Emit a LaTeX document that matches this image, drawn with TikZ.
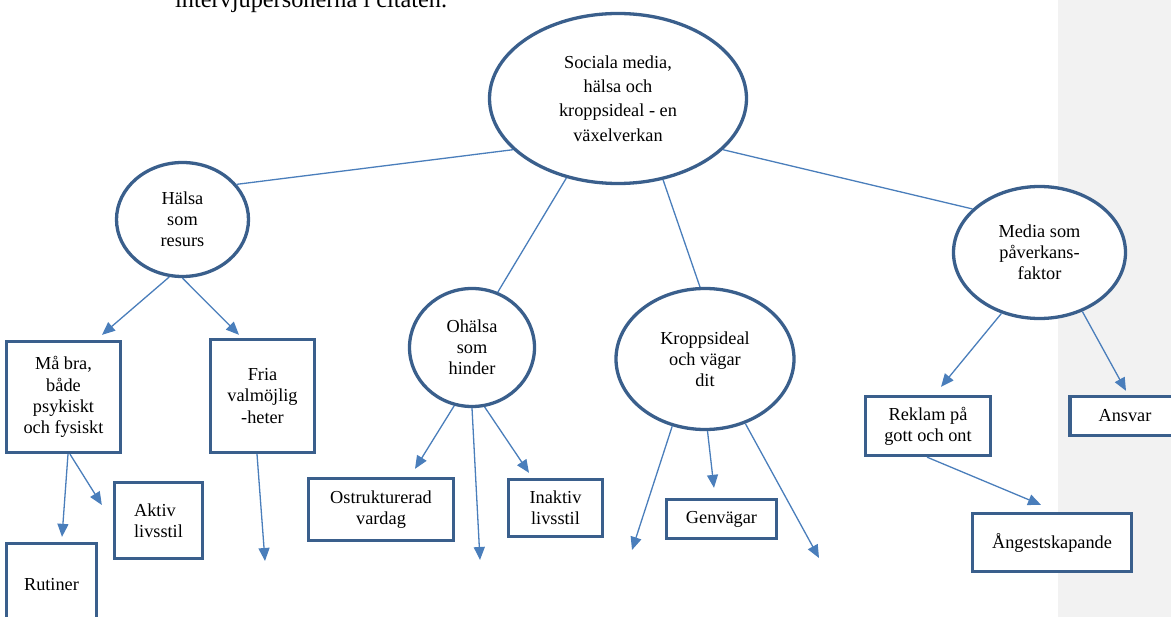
\documentclass[tikz,border=0pt]{standalone}
\usepackage{fontspec}
\setmainfont{Liberation Serif}
\usetikzlibrary{shapes.geometric,arrows.meta}
\definecolor{shapeblue}{HTML}{3A5F8C}
\definecolor{lineblue}{HTML}{4A7EBB}
\definecolor{sidegray}{HTML}{F2F2F2}
\tikzset{
    bubble/.style={ellipse, draw=shapeblue, line width=3.3pt, fill=white, inner sep=0pt, align=center, font=\fontsize{18.3}{21.2}\selectfont},
    box/.style={rectangle, draw=shapeblue, line width=3.3pt, fill=white, inner sep=0pt, align=center, font=\fontsize{18.3}{21.2}\selectfont},
    link/.style={lineblue, line width=1.3pt},
    arr/.style={link, -{Triangle[length=13pt,width=11pt]}}
}
\begin{document}
\begin{tikzpicture}[x=1pt,y=-1pt]
    \clip (0,0) rectangle (1171,617);
    \fill[sidegray] (1058,0) rectangle (1171,617);
    \node [anchor=base west, inner sep=0pt, font=\fontsize{24.3}{29}\selectfont] (intro) at (175,8) {intervjupersonerna i citaten.};

    % ellipses
    \node [bubble, minimum width=257, minimum height=170, font=\fontsize{18.3}{24.3}\selectfont] (soc) at (618,98.5) {Sociala media,\\hälsa och\\kroppsideal - en\\växelverkan};
    \node [bubble, minimum width=132, minimum height=114] (halsa) at (182.5,219.5) {Hälsa\\som\\resurs};
    \node [bubble, minimum width=125, minimum height=118] (ohalsa) at (472,347.5) {Ohälsa\\som\\hinder};
    \node [bubble, minimum width=178, minimum height=141] (kropp) at (705,359) {Kroppsideal\\och vägar\\dit};
    \node [bubble, minimum width=172, minimum height=132] (media) at (1039.5,252.5) {Media som\\påverkans-\\faktor};

    % boxes
    \node [box, minimum width=114, minimum height=111] (mabra) at (63.5,397) {Må bra,\\både\\psykiskt\\och fysiskt};
    \node [box, minimum width=104, minimum height=113] (fria) at (262.5,396) {Fria\\valmöjlig\\-heter};
    \node [box, minimum width=88, minimum height=76, align=left] (aktiv) at (158.5,520.5) {Aktiv\\livsstil};
    \node [box, minimum width=90, minimum height=83] (rutiner) at (51.5,585) {Rutiner};
    \node [box, minimum width=145, minimum height=62] (ostr) at (381,509.5) {Ostrukturerad\\vardag};
    \node [box, minimum width=94, minimum height=57] (inaktiv) at (555.5,508) {Inaktiv\\livsstil};
    \node [box, minimum width=110, minimum height=39] (genvag) at (721.5,519) {Genvägar};
    \node [box, minimum width=125, minimum height=59] (reklam) at (928,426) {Reklam på\\gott och ont};
    \node [box, minimum width=130, minimum height=39] (ansvar) at (1135,416) {\hspace*{-20pt}Ansvar};
    \node [box, minimum width=159, minimum height=58] (angest) at (1052,542.5) {Ångestskapande};

    % open arrow ends
    \coordinate (friaend) at (265,561);
    \coordinate (ohalsaend) at (480,560);
    \coordinate (kroppendl) at (632,550);
    \coordinate (kroppendr) at (819,558);

    \path[link]
                (soc.206) edge (halsa.33)
                (soc.237) edge (ohalsa.65)
                (soc.299) edge (kropp.94)
                (soc.334) edge (media.147);
    \path[arr]
                (halsa.257) edge ([xshift=38.5pt,yshift=5pt]mabra.north)
                (halsa.270) edge ([xshift=-23.5pt,yshift=3pt]fria.north)
                ([xshift=4.5pt]mabra.south) edge ([xshift=10.5pt,yshift=5pt]rutiner.north)
                ([xshift=6.5pt]mabra.south) edge ([xshift=-11pt,yshift=15.5pt]aktiv.west)
                ([xshift=-5.5pt]fria.south) edge (friaend)
                (ohalsa.253) edge ([xshift=34pt,yshift=8pt]ostr.north)
                (ohalsa.270) edge (ohalsaend)
                (ohalsa.282) edge ([xshift=-26.5pt,yshift=5pt]inaktiv.north)
                (kropp.244) edge (kroppendl)
                (kropp.272) edge ([xshift=-7.5pt,yshift=10pt]genvag.north)
                (kropp.302) edge (kroppendr)
                (media.238) edge ([xshift=13pt,yshift=8pt]reklam.north)
                (media.306) edge ([xshift=-9pt,yshift=4pt]ansvar.north)
                ([xshift=-1pt]reklam.south) edge ([xshift=-11pt,yshift=7pt]angest.north);
\end{tikzpicture}
\end{document}
